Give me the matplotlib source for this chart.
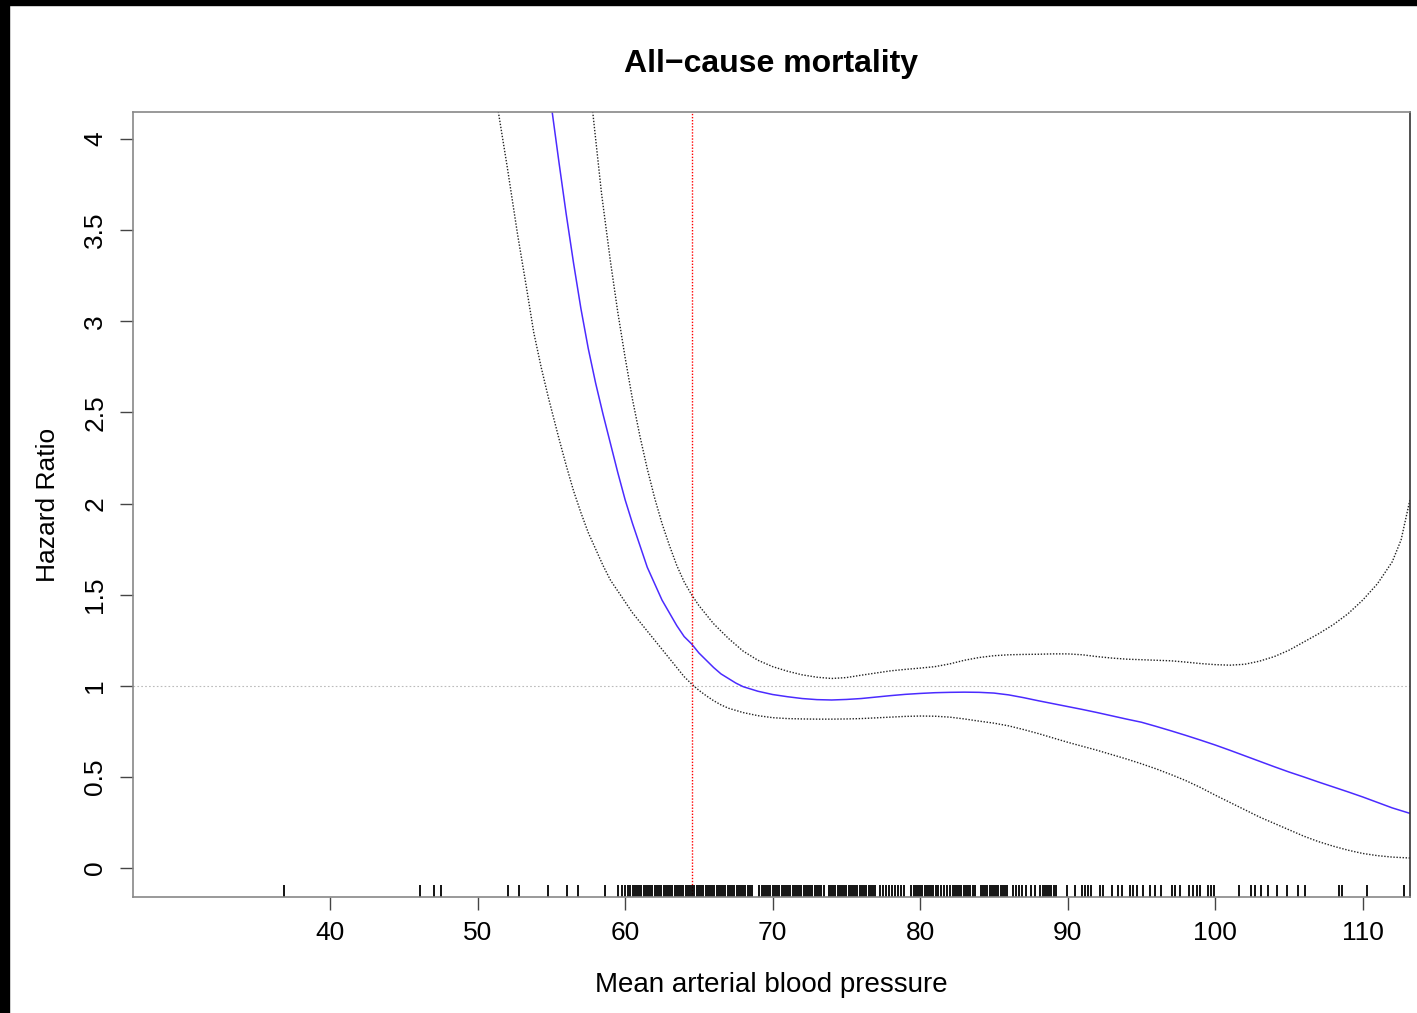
import matplotlib
matplotlib.use("Agg")
import matplotlib.pyplot as plt
from matplotlib.patches import Rectangle

plt.rcParams['font.family'] = ['Liberation Sans', 'DejaVu Sans']

# fitted hazard ratio (blue)
hr_x = [55.05, 55.5, 56.0, 56.5, 57.0, 57.5, 58.0, 58.5, 59.0, 59.5, 60.0, 60.5, 61.0,
        61.5, 62.0, 62.5, 63.0, 63.5, 64.0, 64.5, 65.0, 65.5, 66.0, 66.5, 67.0, 67.5,
        68.0, 69.0, 70.0, 71.0, 72.0, 73.0, 74.0, 75.0, 76.0, 77.0, 78.0, 79.0, 80.0,
        81.0, 82.0, 83.0, 84.0, 85.0, 86.0, 87.0, 88.0, 89.0, 90.0, 91.0, 92.0, 93.0,
        94.0, 95.0, 96.0, 97.0, 98.0, 99.0, 100.0, 101.0, 102.0, 103.0, 104.0, 105.0,
        106.0, 107.0, 108.0, 109.0, 110.0, 111.0, 112.0, 113.2]
hr_y = [4.15, 3.88, 3.59, 3.32, 3.07, 2.85, 2.66, 2.49, 2.33, 2.17, 2.02, 1.89, 1.77,
        1.65, 1.56, 1.47, 1.40, 1.33, 1.27, 1.23, 1.18, 1.14, 1.10, 1.065, 1.04, 1.015,
        0.995, 0.97, 0.952, 0.94, 0.93, 0.924, 0.922, 0.925, 0.93, 0.938, 0.946, 0.953,
        0.958, 0.962, 0.964, 0.965, 0.964, 0.96, 0.95, 0.935, 0.918, 0.902, 0.886, 0.87,
        0.853, 0.835, 0.817, 0.80, 0.777, 0.753, 0.728, 0.702, 0.675, 0.646, 0.616,
        0.586, 0.556, 0.527, 0.50, 0.472, 0.445, 0.418, 0.39, 0.36, 0.33, 0.30]

# upper confidence limit
up_x = [57.8, 58.4, 59.0, 59.5, 60.0, 60.5, 61.0, 61.5, 62.0, 62.5, 63.0, 63.5, 64.0,
        64.5, 65.0, 65.5, 66.0, 66.5, 67.0, 67.5, 68.0, 68.5, 69.0, 70.0, 71.0, 72.0,
        73.0, 74.0, 75.0, 76.0, 77.0, 78.0, 79.0, 80.0, 81.0, 82.0, 83.0, 84.0, 85.0,
        86.0, 87.0, 88.0, 89.0, 90.0, 91.0, 92.0, 93.0, 94.0, 95.0, 96.0, 97.0, 98.0,
        99.0, 100.0, 101.0, 102.0, 103.0, 104.0, 105.0, 106.0, 107.0, 108.0, 109.0,
        110.0, 111.0, 112.0, 112.6, 113.2]
up_y = [4.15, 3.70, 3.33, 3.05, 2.80, 2.57, 2.37, 2.19, 2.03, 1.89, 1.77, 1.66, 1.57,
        1.50, 1.44, 1.39, 1.34, 1.30, 1.26, 1.225, 1.19, 1.165, 1.14, 1.105, 1.08, 1.06,
        1.047, 1.04, 1.045, 1.058, 1.07, 1.082, 1.09, 1.097, 1.105, 1.12, 1.14, 1.155,
        1.165, 1.17, 1.172, 1.173, 1.175, 1.175, 1.17, 1.16, 1.152, 1.146, 1.143, 1.14,
        1.137, 1.13, 1.122, 1.116, 1.113, 1.118, 1.135, 1.16, 1.195, 1.24, 1.285, 1.335,
        1.395, 1.47, 1.56, 1.68, 1.80, 2.02]

# lower confidence limit
lo_x = [51.4, 52.0, 52.7, 53.3, 53.8, 54.3, 54.8, 55.5, 56.0, 56.5, 57.0, 57.5, 58.0,
        58.5, 59.0, 59.5, 60.0, 60.5, 61.0, 61.5, 62.0, 62.5, 63.0, 63.5, 64.0, 64.5,
        65.0, 65.5, 66.0, 66.5, 67.0, 68.0, 69.0, 70.0, 71.0, 72.0, 73.0, 74.0, 75.0,
        76.0, 77.0, 78.0, 79.0, 80.0, 81.0, 82.0, 83.0, 84.0, 85.0, 86.0, 87.0, 88.0,
        89.0, 90.0, 91.0, 92.0, 93.0, 94.0, 95.0, 96.0, 97.0, 98.0, 99.0, 100.0, 101.0,
        102.0, 103.0, 104.0, 105.0, 106.0, 107.0, 108.0, 109.0, 110.0, 111.0, 112.0,
        113.2]
lo_y = [4.15, 3.85, 3.48, 3.19, 2.94, 2.75, 2.58, 2.36, 2.21, 2.07, 1.95, 1.84, 1.75,
        1.66, 1.58, 1.52, 1.46, 1.40, 1.35, 1.30, 1.25, 1.20, 1.15, 1.10, 1.05, 1.01,
        0.975, 0.945, 0.918, 0.895, 0.877, 0.853, 0.836, 0.825, 0.82, 0.818, 0.817, 0.817,
        0.818, 0.82, 0.824, 0.828, 0.832, 0.834, 0.833, 0.828, 0.818, 0.806, 0.795,
        0.78, 0.76, 0.738, 0.714, 0.69, 0.668, 0.646, 0.622, 0.598, 0.572, 0.544, 0.513,
        0.48, 0.442, 0.40, 0.36, 0.32, 0.28, 0.245, 0.21, 0.175, 0.145, 0.12, 0.098,
        0.08, 0.068, 0.06, 0.055]

ref_x = 64.55

# observed values (rug)
rug = [36.9, 46.1, 47.05, 47.5, 52.07, 52.8, 54.8, 56.07, 56.8, 58.6, 59.5, 59.8,
       60.0, 60.2, 60.35, 60.5, 60.65, 60.8, 60.95, 61.1, 61.25, 61.4, 61.55, 61.7,
       61.85, 62.0, 62.15, 62.3, 62.45, 62.6, 62.75, 62.9, 63.05, 63.2, 63.35, 63.5,
       63.65, 63.8, 63.95, 64.1, 64.25, 64.4, 64.55, 64.7, 64.85, 65.0, 65.15, 65.3,
       65.45, 65.6, 65.75, 65.9, 66.05, 66.2, 66.35, 66.5, 66.65, 66.8, 66.95, 67.1,
       67.25, 67.4, 67.55, 67.7, 67.85, 68.0, 68.15, 68.3, 68.45, 68.6,
       69.1, 69.25, 69.4, 69.55, 69.7, 69.85, 70.0, 70.15, 70.3, 70.45, 70.6, 70.75,
       70.9, 71.05, 71.2, 71.35, 71.5, 71.65, 71.8, 71.95, 72.1, 72.25, 72.4, 72.55,
       72.7, 72.85, 73.0, 73.15, 73.3, 73.45,
       73.8, 73.95, 74.1, 74.25, 74.4, 74.55, 74.7, 74.85, 75.0, 75.15, 75.3, 75.45,
       75.6, 75.75, 75.9, 76.05, 76.2, 76.35, 76.5, 76.65, 76.8, 76.95,
       77.3, 77.5, 77.7, 77.9, 78.1, 78.3, 78.5, 78.7, 78.9,
       79.4, 79.55, 79.7, 79.85, 80.0, 80.15, 80.3, 80.45, 80.6, 80.75, 80.9, 81.05,
       81.2, 81.4, 81.6, 81.8, 82.0, 82.2, 82.35, 82.5, 82.65, 82.8, 82.95, 83.1,
       83.25, 83.4, 83.55, 83.7,
       84.1, 84.25, 84.4, 84.55, 84.7, 84.85, 85.0, 85.15, 85.3, 85.45, 85.6, 85.75,
       85.9, 86.3, 86.5, 86.7, 86.9, 87.2, 87.5, 87.8, 88.1, 88.3, 88.45, 88.6, 88.75,
       88.9, 89.05, 89.2,
       89.97, 90.5, 91.0, 91.2, 91.4, 91.6, 92.2, 92.4, 93.0, 93.4, 93.7, 94.2, 94.4,
       94.7, 95.1, 95.6, 95.9, 96.3, 97.1, 97.3, 97.6, 98.2, 98.5, 98.8, 99.0, 99.5,
       99.7, 99.9, 101.6, 102.4, 102.7, 103.1, 103.6, 104.2, 104.9, 105.6, 106.1,
       108.4, 108.6, 110.3, 112.8]

x_ticks = [40, 50, 60, 70, 80, 90, 100, 110]
y_ticks = [0, 0.5, 1, 1.5, 2, 2.5, 3, 3.5, 4]
y_labels = ['0', '0.5', '1', '1.5', '2', '2.5', '3', '3.5', '4']

fig = plt.figure(figsize=(14.17, 10.13), dpi=100)
ax = fig.add_axes([0.0939, 0.1145, 0.9011, 0.7749])

ax.axhline(1, color='#bbbbbb', lw=0.8, ls=(0, (1.5, 2)))
ax.plot(lo_x, lo_y, color='#222222', lw=1.0, ls=(0, (1, 1.2)))
ax.plot(up_x, up_y, color='#222222', lw=1.0, ls=(0, (1, 1.2)))
ax.plot(hr_x, hr_y, color='#4b2bff', lw=1.1)
ax.axvline(ref_x, color='red', lw=1.0, ls=(0, (1, 1.2)))
ax.vlines(rug, 0, 0.0155, transform=ax.get_xaxis_transform(), color='black', lw=1.3)

ax.set_xlim(26.64, 113.2)
ax.set_ylim(-0.159, 4.148)
ax.set_xticks(x_ticks)
ax.set_yticks(y_ticks)
ax.set_yticklabels(y_labels, rotation=90, va='center')
ax.tick_params(axis='both', length=9.5, width=1, color='#444444', labelsize=19)
ax.tick_params(axis='x', pad=8)
ax.tick_params(axis='y', pad=9)
for s in ax.spines.values():
    s.set_color('#888888')
    s.set_linewidth(1.2)
ax.spines['right'].set_color('#333333')

ax.set_xlabel('Mean arterial blood pressure', fontsize=20, labelpad=19)
ax.set_ylabel('Hazard Ratio', fontsize=19, labelpad=16.5)
ax.set_title('All\u2212cause mortality', fontsize=23, fontweight='bold', pad=28.5)

# black scan border at top and left
fig.patches.append(Rectangle((0, 1 - 5 / 1013), 1, 5 / 1013, transform=fig.transFigure,
                             color='black', zorder=10))
fig.patches.append(Rectangle((0, 0), 9 / 1417, 1, transform=fig.transFigure,
                             color='black', zorder=10))

fig.savefig('out.png', dpi=100)
